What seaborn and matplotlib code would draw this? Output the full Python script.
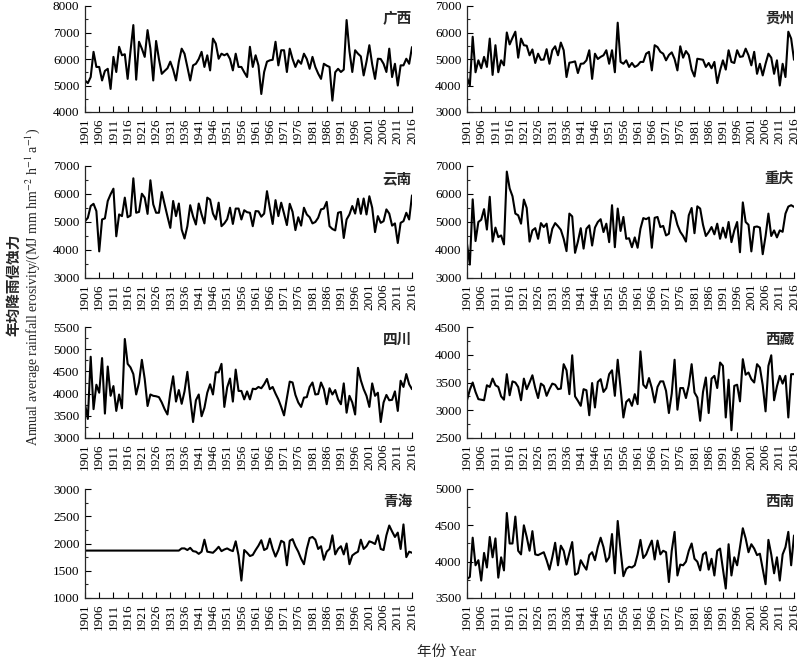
import matplotlib
matplotlib.use("Agg")
import matplotlib.pyplot as plt
from matplotlib.ticker import MultipleLocator
import seaborn as sns
import pandas as pd

years = list(range(1901, 2017))

guangxi = [5190, 5090, 5320, 6270, 5700, 5700, 5190, 5550, 5630, 4870,
           6080, 5510, 6460, 6140, 6180, 5250, 6300, 7280, 5220, 6650,
           6390, 6080, 7090, 6390, 5190, 6680, 6000, 5440, 5550, 5650,
           5900, 5600, 5190, 5900, 6390, 6200, 5700, 5190, 5760, 5820,
           6000, 6270, 5700, 6140, 5570, 6770, 6580, 6010, 6200, 6140,
           6200, 6000, 5570, 6200, 5700, 5700, 5500, 5320, 6460, 5700,
           6140, 5760, 4680, 5510, 5900, 5950, 5970, 6650, 5760, 6330,
           6330, 5510, 6390, 6000, 5700, 5950, 5820, 6200, 6000, 5630,
           6080, 5700, 5450, 5250, 5820, 5750, 5700, 4430, 5500, 5630,
           5510, 5600, 7470, 6300, 5510, 6330, 6200, 6100, 5380, 5900,
           6520, 5800, 5250, 6010, 6000, 5820, 5510, 6390, 5320, 5820,
           5000, 5760, 5760, 6010, 5820, 6450]

guizhou = [4300, 4000, 5840, 4500, 4950, 4650, 5080, 4700, 5770, 4400,
           5520, 4500, 4950, 4760, 6000, 5550, 5800, 6030, 5050, 5770,
           5520, 5500, 5140, 5360, 4850, 5200, 4970, 4980, 5370, 4820,
           5330, 5480, 5140, 5620, 5330, 4320, 4860, 4880, 4910, 4470,
           4820, 4830, 4950, 5330, 4250, 5200, 5000, 5080, 5140, 5330,
           4820, 5330, 4500, 6370, 4890, 4820, 4950, 4700, 4850, 4700,
           4760, 4890, 4890, 5200, 5270, 4570, 5520, 5450, 5270, 5200,
           4950, 5150, 5250, 5000, 4570, 5480, 5050, 5300, 5150, 4600,
           4340, 5010, 4990, 4970, 4700, 4850, 4650, 4890, 4090, 4570,
           4950, 4600, 5330, 4890, 4850, 5330, 5080, 5100, 5390, 5140,
           4760, 5270, 4440, 4820, 4380, 4820, 5200, 5050, 4440, 4950,
           4000, 4820, 4320, 6030, 5770, 4970]

yunnan = [5030, 5150, 5570, 5650, 5390, 3950, 5090, 5130, 5750, 5990,
          6190, 4490, 5270, 5210, 5870, 5170, 5230, 6560, 5330, 5360,
          6010, 5870, 5290, 6490, 5630, 5330, 5330, 6070, 5630, 5200,
          4790, 5750, 5210, 5660, 4730, 4410, 4850, 5600, 5200, 4910,
          5660, 5270, 4950, 5870, 5800, 5300, 5090, 5690, 4850, 4950,
          5100, 5510, 4930, 5480, 5480, 5090, 5420, 5350, 5330, 4850,
          5390, 5380, 5190, 5300, 6100, 5500, 4930, 5780, 5210, 5690,
          5300, 4890, 5650, 5360, 4710, 5170, 4870, 5510, 5270, 5170,
          4950, 5000, 5150, 5450, 5480, 5720, 4850, 4750, 4700, 5330,
          5360, 4430, 5090, 5270, 5570, 5300, 5830, 5290, 5840, 5270,
          5920, 5510, 4640, 5210, 4970, 5030, 5450, 5300, 4870, 4950,
          4250, 4970, 5030, 5330, 5090, 5950]

chongqing = [4220, 3480, 5810, 4320, 5000, 5080, 5460, 4730, 5900, 4300,
             4800, 4460, 4520, 4200, 6800, 6200, 5920, 5300, 5240, 4940,
             5800, 5500, 4300, 4700, 4780, 4400, 4960, 4820, 4940, 4250,
             4760, 4960, 4850, 4720, 4400, 3960, 5300, 5200, 3900, 4300,
             4780, 4050, 4760, 4880, 4160, 4800, 5000, 5100, 4640, 4940,
             4280, 5600, 4100, 5480, 4680, 5180, 4400, 4420, 4100, 4450,
             4080, 4760, 5140, 5100, 5160, 4080, 5150, 5180, 4820, 4860,
             4520, 4580, 5400, 5300, 4900, 4650, 4500, 4300, 5240, 5500,
             4600, 5560, 5480, 4900, 4500, 4640, 4820, 4560, 4940, 4400,
             4800, 4440, 5000, 4280, 4700, 5000, 3920, 5700, 5000, 4900,
             3950, 4820, 4840, 4800, 3850, 4500, 5300, 4500, 4700, 4450,
             4700, 4650, 5300, 5550, 5600, 5540]

sichuan = [3760, 3430, 4830, 3650, 4200, 4020, 4800, 3550, 4610, 3950,
           4170, 3610, 3980, 3670, 5230, 4670, 4590, 4440, 3980, 4250,
           4760, 4330, 3720, 3980, 3950, 3940, 3920, 3800, 3650, 3530,
           4020, 4390, 3820, 4080, 3770, 4050, 4490, 3900, 3360, 3850,
           3980, 3490, 3680, 4020, 4210, 3980, 4480, 4480, 4670, 3700,
           4140, 4340, 3820, 4540, 4060, 4060, 3870, 4050, 3870, 4110,
           4100, 4150, 4120, 4210, 4330, 4100, 4150, 4000, 3870, 3700,
           3510, 3900, 4270, 4250, 3970, 3800, 3700, 3910, 3920, 4150,
           4250, 3980, 3990, 4250, 4100, 3760, 4120, 3980, 4080, 3870,
           3760, 4230, 3570, 3950, 3800, 3530, 4580, 4300, 4100, 3950,
           3700, 4230, 3950, 4020, 3360, 3800, 3970, 3850, 3860, 4050,
           3610, 4290, 4150, 4440, 4210, 4100]

xizang = [3180, 3370, 3500, 3330, 3200, 3190, 3180, 3450, 3420, 3570,
          3450, 3420, 3250, 3190, 3650, 3270, 3520, 3500, 3420, 3180,
          3570, 3380, 3500, 3630, 3400, 3220, 3480, 3440, 3260, 3380,
          3480, 3460, 3380, 3390, 3830, 3720, 3290, 3990, 3250, 3170,
          3080, 3380, 3360, 2910, 3490, 3050, 3510, 3560, 3330, 3400,
          3650, 3720, 3260, 3910, 3400, 2870, 3150, 3200, 3080, 3290,
          3110, 4060, 3460, 3400, 3580, 3400, 3140, 3420, 3520, 3520,
          3350, 2950, 3300, 3910, 3010, 3400, 3400, 3220, 3450, 3830,
          3320, 3230, 2810, 3330, 3590, 2950, 3570, 3620, 3400, 3860,
          3800, 2870, 3550, 2640, 3440, 3460, 3160, 3920, 3640, 3680,
          3560, 3500, 3830, 3770, 3450, 2980, 3800, 3990, 3180, 3430,
          3620, 3480, 3620, 2870, 3650, 3650]

qinghai = [1870, 1870, 1870, 1870, 1870, 1870, 1870, 1870, 1870, 1870,
           1870, 1870, 1870, 1870, 1870, 1870, 1870, 1870, 1870, 1870,
           1870, 1870, 1870, 1870, 1870, 1870, 1870, 1870, 1870, 1870,
           1870, 1870, 1870, 1870, 1910, 1910, 1880, 1920, 1860, 1850,
           1810, 1850, 2070, 1850, 1840, 1830, 1880, 1940, 1860, 1890,
           1910, 1880, 1860, 2040, 1780, 1320, 1880, 1830, 1770, 1790,
           1880, 1960, 2060, 1880, 1910, 2090, 1900, 1760, 1880, 2050,
           2020, 1600, 2050, 2080, 1950, 1850, 1720, 1620, 1900, 2100,
           2120, 2070, 1900, 1950, 1700, 1850, 1900, 2150, 1800, 1900,
           1950, 1800, 2000, 1620, 1780, 1820, 1850, 2070, 1900, 1950,
           2040, 2020, 1990, 2150, 1900, 1880, 2150, 2330, 2220, 2120,
           2200, 1900, 2350, 1750, 1850, 1830]

xinan = [3760, 3790, 4330, 3950, 4020, 3740, 4120, 3920, 4340, 4060,
         4320, 3780, 4060, 3880, 4670, 4250, 4250, 4620, 4150, 4100,
         4500, 4340, 4150, 4420, 4100, 4090, 4110, 4130, 4020, 3890,
         4060, 4260, 3950, 4220, 4150, 3960, 4120, 4270, 3820, 3840,
         4020, 3950, 3890, 4090, 4130, 4020, 4200, 4330, 4200, 4000,
         4060, 4380, 3840, 4560, 4160, 3800, 3900, 3930, 3920, 3950,
         4100, 4300, 4050, 4100, 4200, 4290, 4030, 4290, 4100, 4150,
         4130, 3720, 4150, 4410, 3810, 3960, 3950, 4000, 4150, 4250,
         4040, 4000, 3880, 4100, 4130, 3890, 4040, 3810, 4150, 4180,
         3900, 3630, 4240, 3810, 4060, 3950, 4200, 4460, 4320, 4130,
         4240, 4180, 4090, 4110, 3900, 3690, 4300, 4100, 3840, 4060,
         3740, 4100, 4200, 4410, 3950, 4360]

region_names = ["广西", "贵州", "云南", "重庆", "四川", "西藏", "青海", "西南"]
series = [guangxi, guizhou, yunnan, chongqing, sichuan, xizang, qinghai, xinan]
y_limits = [(4000, 8000), (3000, 7000), (3000, 7000), (3000, 7000),
            (3000, 5500), (2500, 4500), (1000, 3000), (3500, 5000)]
y_steps = [1000, 1000, 1000, 1000, 500, 500, 500, 500]

df = pd.DataFrame({"year": years})
for name, vals in zip(region_names, series):
    df[name] = vals

sns.set_style("ticks")
plt.rcParams["font.family"] = ["Liberation Serif", "Noto Sans CJK SC"]
plt.rcParams["mathtext.fontset"] = "stix"
plt.rcParams["axes.linewidth"] = 0.9

W, H = 800, 661
fig = plt.figure(figsize=(8, 6.61), dpi=100)

cols = [(85, 412), (467, 794)]
rows = [(6, 112), (166, 278), (327, 438), (489, 598)]

for k, name in enumerate(region_names):
    r, c = divmod(k, 2)
    x0, x1 = cols[c]
    y0, y1 = rows[r]
    ax = fig.add_axes([x0 / W, 1 - y1 / H, (x1 - x0) / W, (y1 - y0) / H])
    sns.lineplot(data=df, x="year", y=name, ax=ax, color="black", linewidth=1.5)
    ax.set_xlim(1901, 2016)
    ax.set_ylim(*y_limits[k])
    ax.set_xticks(list(range(1901, 2017, 5)))
    ax.set_xticklabels([str(v) for v in range(1901, 2017, 5)], rotation=90)
    ax.yaxis.set_major_locator(MultipleLocator(y_steps[k]))
    ax.yaxis.set_minor_locator(MultipleLocator(y_steps[k] / 2))
    ax.tick_params(axis="both", which="major", direction="in", length=4,
                   width=0.8, labelsize=9.5, colors="black", pad=4)
    ax.tick_params(axis="y", which="minor", direction="in", length=2.5, width=0.8)
    ax.set_xlabel("")
    ax.set_ylabel("")
    for s in ["top", "right"]:
        ax.spines[s].set_visible(False)
    h = y1 - y0
    ax.text(1.0, 1 - 12 / h, name, transform=ax.transAxes, ha="right", va="center",
            fontsize=10.5, fontweight="bold", family=["Noto Sans CJK SC"])

fig.text(13 / W, 1 - 285 / H, "年均降雨侵蚀力", rotation=90, ha="center", va="center",
         fontsize=10.5, fontweight="bold", family=["Noto Sans CJK SC"])
fig.text(33 / W, 1 - 287 / H,
         r"Annual average rainfall erosivity/(MJ mm hm$^{-2}$ h$^{-1}$ a$^{-1}$)",
         rotation=90, ha="center", va="center", fontsize=10,
         family=["Liberation Serif"])
fig.text(447 / W, 1 - 652 / H, "年份 Year", ha="center", va="center", fontsize=10.5,
         family=["Liberation Serif", "Noto Sans CJK SC"])

fig.savefig("out.png", dpi=100)
